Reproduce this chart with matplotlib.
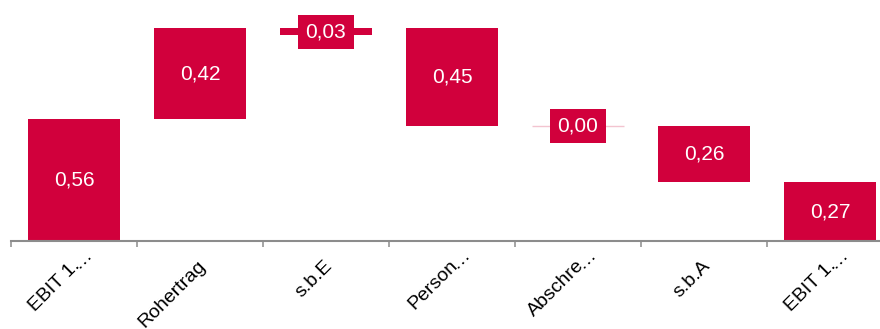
import matplotlib
matplotlib.use("Agg")
import matplotlib.pyplot as plt

plt.rcParams['font.family'] = ['Liberation Sans', 'DejaVu Sans']

# Bridge categories, signed changes and the level each bar starts from
categories = ['EBIT 1.…', 'Rohertrag', 's.b.E', 'Person…', 'Abschre…', 's.b.A', 'EBIT 1.…']
changes = [0.56, 0.42, -0.03, -0.45, 0.00, -0.26, 0.27]
bases = [0.0, 0.56, 0.98, 0.98, 0.53, 0.53, 0.0]

bar_color = '#D1003C'
axis_color = '#8c8c8c'

fig = plt.figure(figsize=(8.8, 3.29), dpi=100)
ax = fig.add_axes([11 / 880, 88 / 329, 882 / 880, 241 / 329])

for i, (d, b) in enumerate(zip(changes, bases)):
    if d == 0:
        # zero step: only a faint line at the current level
        ax.bar(i, d, bottom=b, width=0.73, color='none', edgecolor='#f3c4d0', linewidth=1)
    else:
        ax.bar(i, d, bottom=b, width=0.73, color=bar_color, linewidth=0)
    mid = b + d / 2
    ax.text(i, mid, f"{abs(d):.2f}".replace('.', ','), color='white', fontsize=15,
            ha='center', va='center', zorder=3,
            bbox=dict(boxstyle='square,pad=0.36', facecolor=bar_color, edgecolor='none'))

ax.set_xlim(-0.5, len(categories) - 0.5)
ax.set_ylim(0, 241 / 217)

for s in ['top', 'right', 'left']:
    ax.spines[s].set_visible(False)
ax.spines['bottom'].set_color(axis_color)
ax.spines['bottom'].set_linewidth(1.5)

# tick marks sit on the category boundaries
ax.set_xticks([i - 0.5 for i in range(len(categories) + 1)])
ax.set_xticklabels([])
ax.tick_params(axis='x', length=4.5, width=1.1, color=axis_color, direction='out')
ax.set_yticks([])

# rotated category names; a trailing ellipsis runs past the anchor point
for i, lab in enumerate(categories):
    head, tail = (lab[:-1], '…') if lab.endswith('…') else (lab, '')
    ax.annotate(head, xy=(i, 0), xycoords=('data', 'axes fraction'),
                xytext=(4.6, -18.2), textcoords='offset points',
                rotation=45, ha='right', va='baseline', rotation_mode='anchor',
                fontsize=14, color='black', annotation_clip=False)
    if tail:
        ax.annotate(tail, xy=(i, 0), xycoords=('data', 'axes fraction'),
                    xytext=(2.8, -20.0), textcoords='offset points',
                    rotation=45, ha='left', va='baseline', rotation_mode='anchor',
                    fontsize=14, color='black', annotation_clip=False)

fig.savefig('out.png', dpi=100)
